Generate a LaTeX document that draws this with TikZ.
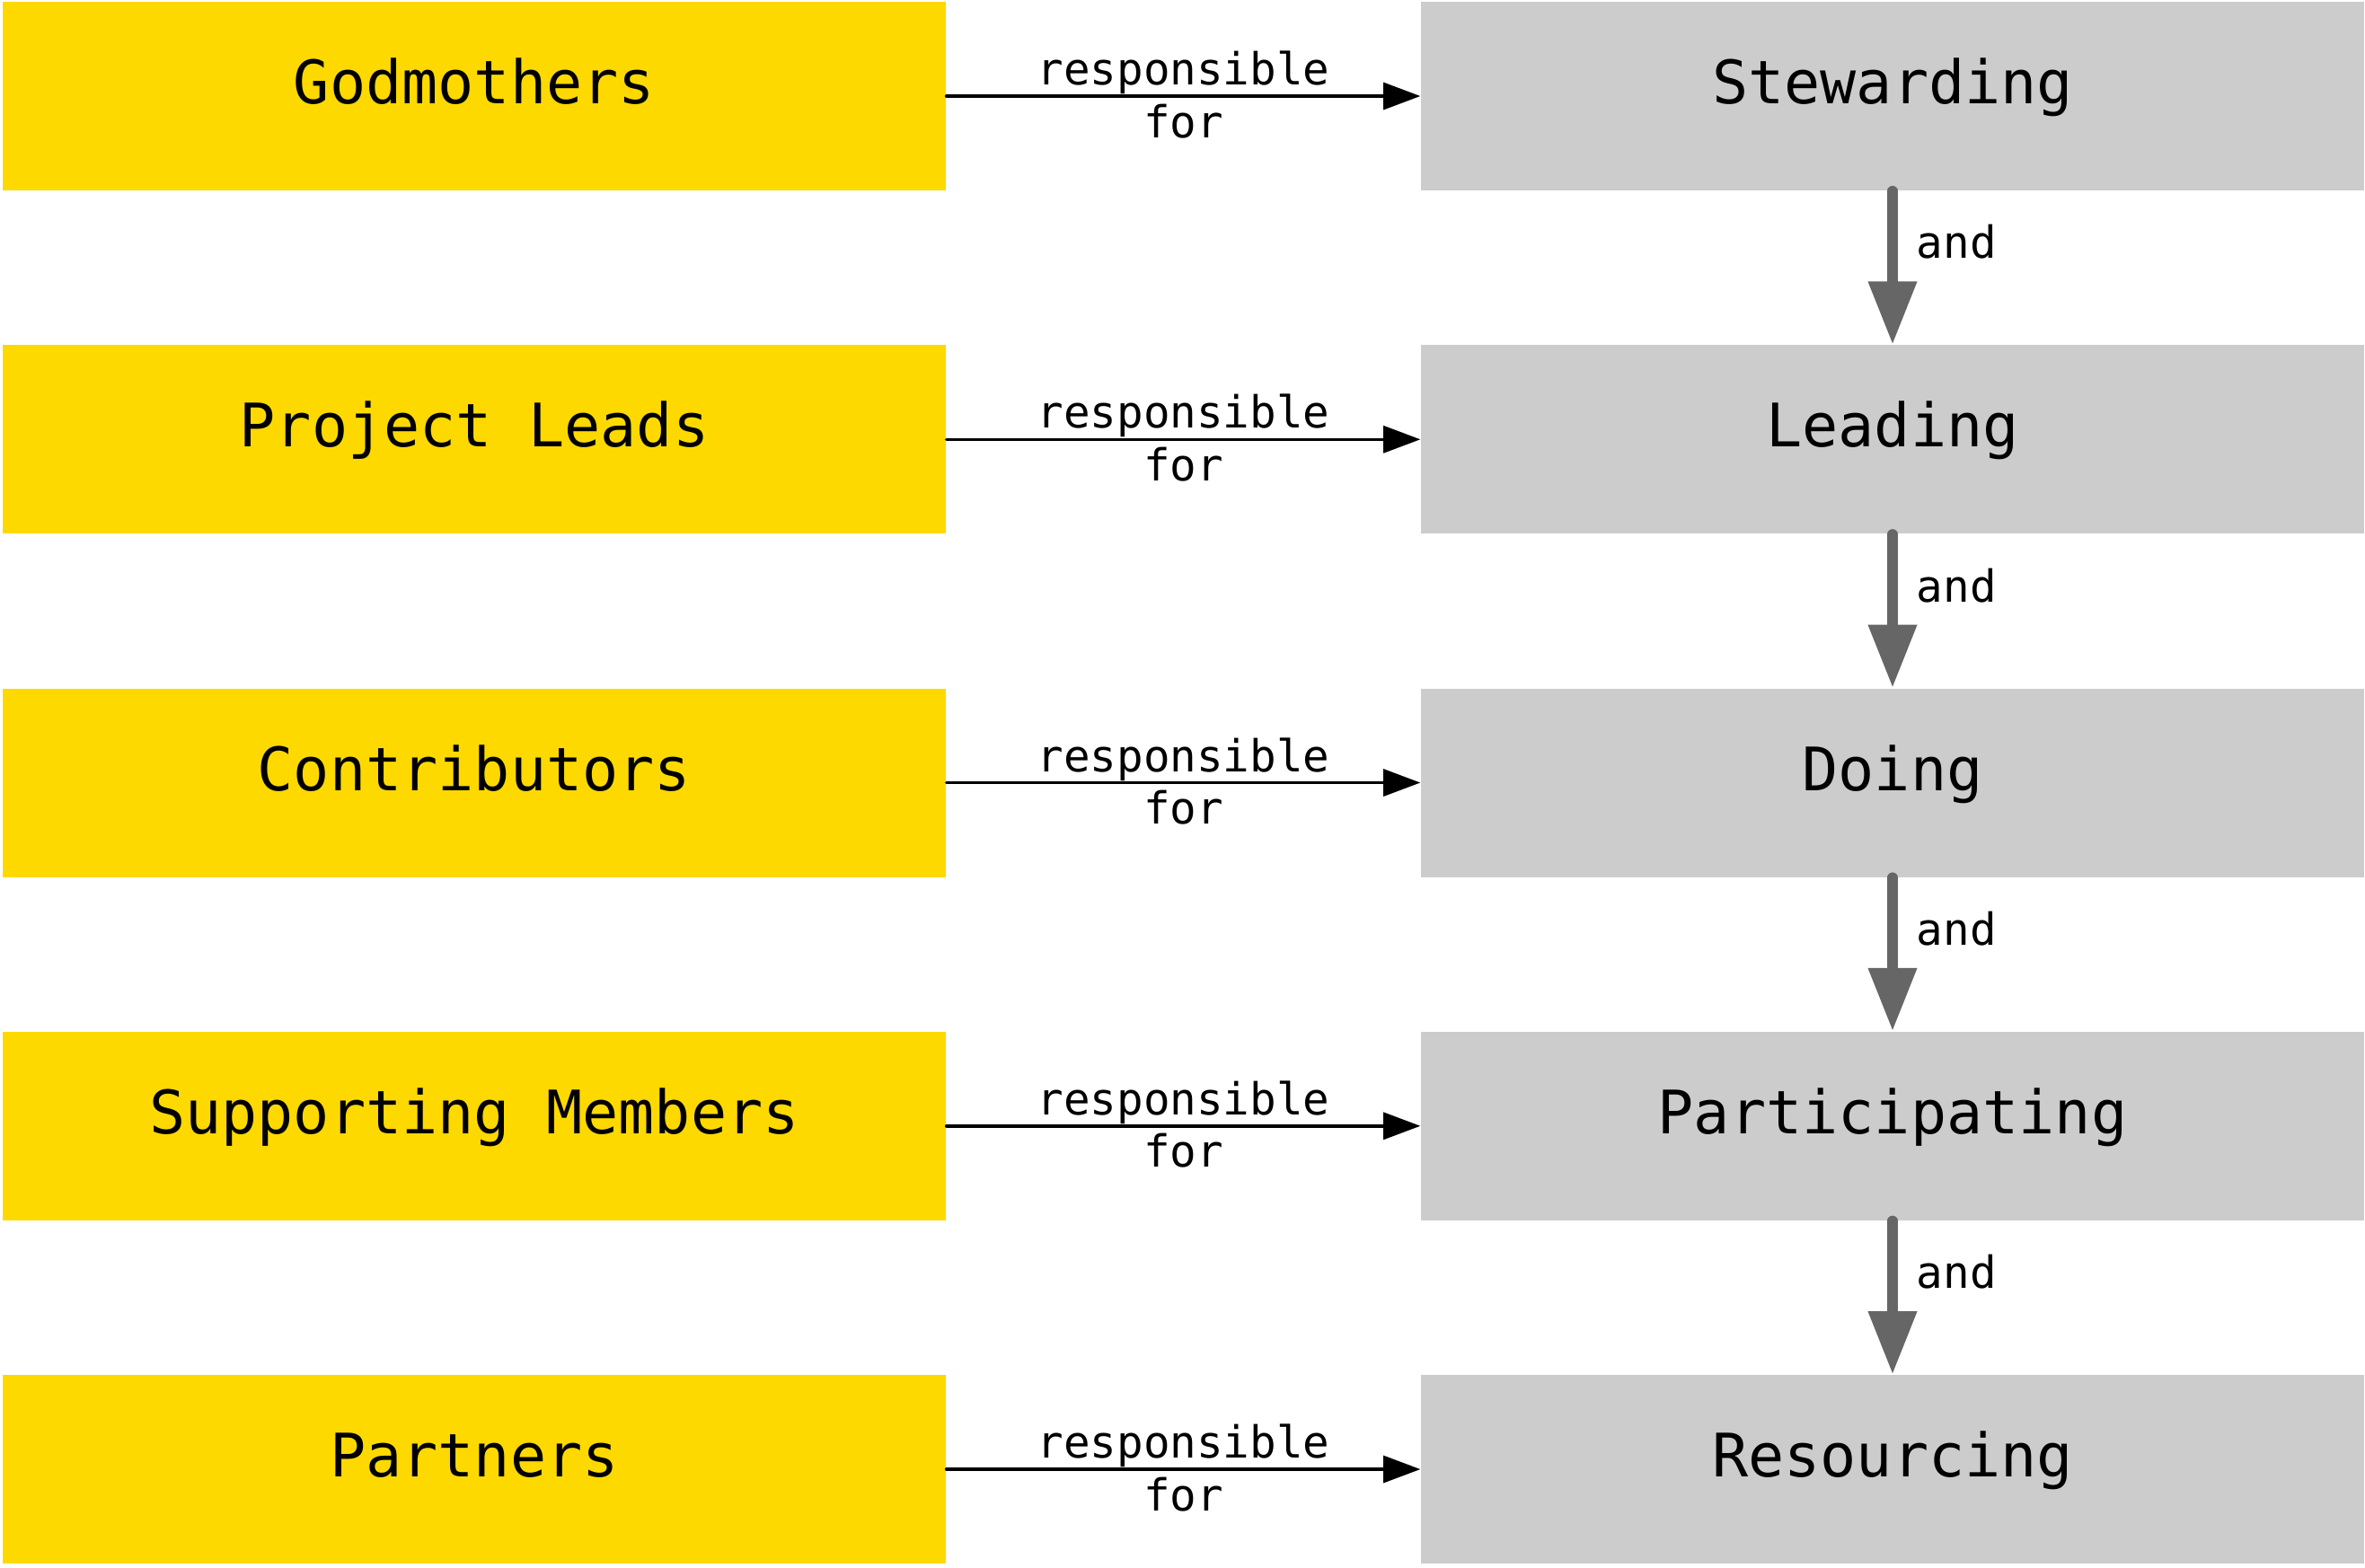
\documentclass[tikz,border=0pt]{standalone}
\usepackage{fontspec}
\usepackage{tikz}
\usepackage{xcolor}
\usetikzlibrary{arrows.meta}
\newfontfamily\diagfont{DejaVu Sans Mono}
\definecolor{roleyellow}{RGB}{253,217,0}
\definecolor{taskgray}{RGB}{204,204,204}
\definecolor{arrowgray}{RGB}{102,102,102}

\begin{document}
\begin{tikzpicture}[
    box/.style={minimum width=10.5cm, minimum height=2.1cm, inner sep=0pt,
        text height=0.72em, text depth=0.225em,
        font=\diagfont\fontsize{19}{22}\selectfont},
    role/.style={box, fill=roleyellow},
    task/.style={box, fill=taskgray},
    resp/.style={line width=1pt, line cap=round, -{Triangle[length=11.7pt, width=8.5pt]}},
    andarrow/.style={draw=arrowgray, line width=3.3pt, line cap=round,
        -{Triangle[length=20pt, width=14.7pt]}},
    lbl/.style={inner sep=0pt, font=\diagfont\fontsize{14}{16}\selectfont}
]
    \useasboundingbox (0, 0) rectangle (26.33, -17.45);

    % roles on the left
    \node[role] (god) at (5.28, -1.07) {Godmothers};
    \node[role] (lead) at (5.28, -4.8925) {Project Leads};
    \node[role] (contrib) at (5.28, -8.715) {Contributors};
    \node[role] (member) at (5.28, -12.5375) {Supporting Members};
    \node[role] (partner) at (5.28, -16.36) {Partners};

    % tasks on the right
    \node[task] (steward) at (21.07, -1.07) {Stewarding};
    \node[task] (leading) at (21.07, -4.8925) {Leading};
    \node[task] (doing) at (21.07, -8.715) {Doing};
    \node[task] (partic) at (21.07, -12.5375) {Participating};
    \node[task] (resource) at (21.07, -16.36) {Resourcing};

    % responsible for
    \draw[resp] (god.east) -- node[lbl, above=3pt, text depth=0pt] {responsible} node[lbl, below=5pt, text height=0.76em] {for} (steward.west);
    \draw[resp] (lead.east) -- node[lbl, above=3pt, text depth=0pt] {responsible} node[lbl, below=5pt, text height=0.76em] {for} (leading.west);
    \draw[resp] (contrib.east) -- node[lbl, above=3pt, text depth=0pt] {responsible} node[lbl, below=5pt, text height=0.76em] {for} (doing.west);
    \draw[resp] (member.east) -- node[lbl, above=3pt, text depth=0pt] {responsible} node[lbl, below=5pt, text height=0.76em] {for} (partic.west);
    \draw[resp] (partner.east) -- node[lbl, above=3pt, text depth=0pt] {responsible} node[lbl, below=5pt, text height=0.76em] {for} (resource.west);

    % and
    \draw[andarrow] (steward.south) -- node[lbl, pos=0.44, anchor=base west, xshift=6pt] {and} (leading.north);
    \draw[andarrow] (leading.south) -- node[lbl, pos=0.44, anchor=base west, xshift=6pt] {and} (doing.north);
    \draw[andarrow] (doing.south) -- node[lbl, pos=0.44, anchor=base west, xshift=6pt] {and} (partic.north);
    \draw[andarrow] (partic.south) -- node[lbl, pos=0.44, anchor=base west, xshift=6pt] {and} (resource.north);
\end{tikzpicture}
\end{document}
